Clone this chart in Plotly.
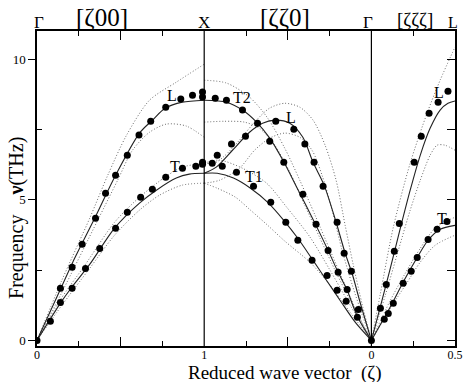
import plotly.graph_objects as go

# ---------------- data (ζ, frequency in THz) ----------------
# [ζ00] direction  (Γ -> X)
d1_L_exp_z = [0, 0.08, 0.14, 0.21, 0.27, 0.35, 0.41, 0.47, 0.54, 0.61, 0.68, 0.77, 0.86, 0.93, 0.99, 0.99]
d1_L_exp_f = [0, 0.68, 1.85, 2.60, 3.42, 4.34, 5.23, 5.87, 6.58, 7.30, 7.79, 8.29, 8.58, 8.72, 8.83, 8.65]
d1_T_exp_z = [0.14, 0.21, 0.29, 0.375, 0.47, 0.54, 0.62, 0.69, 0.77, 0.87, 0.95, 0.99, 0.99]
d1_T_exp_f = [1.35, 1.85, 2.56, 3.27, 3.99, 4.56, 5.09, 5.37, 5.80, 6.12, 6.19, 6.33, 6.26]

d1_L_calc_z = [0, 0.143, 0.214, 0.345, 0.470, 0.613, 0.690, 0.768, 0.869, 1.0]
d1_L_calc_f = [0, 1.85, 2.78, 4.34, 5.87, 7.37, 7.83, 8.26, 8.47, 8.54]
d1_T_calc_z = [0, 0.143, 0.208, 0.315, 0.464, 0.613, 0.714, 0.833, 0.911, 1.0]
d1_T_calc_f = [0, 1.35, 1.89, 2.70, 3.99, 4.88, 5.34, 5.77, 5.91, 5.94]

d1_L_alt1_z = [0, 0.149, 0.315, 0.423, 0.536, 0.673, 0.833, 1.0]
d1_L_alt1_f = [0, 2.14, 4.34, 5.87, 7.30, 8.54, 9.18, 9.82]
d1_L_alt2_z = [0, 0.149, 0.363, 0.482, 0.571, 0.673, 0.774, 0.893, 1.0]
d1_L_alt2_f = [0, 1.71, 4.27, 5.69, 6.76, 7.40, 7.69, 7.62, 7.22]
d1_T_alt1_z = [0, 0.137, 0.286, 0.464, 0.613, 0.774, 0.869, 1.0]
d1_T_alt1_f = [0, 1.42, 2.67, 4.20, 5.09, 5.84, 6.16, 6.30]
d1_T_alt2_z = [0, 0.149, 0.315, 0.464, 0.613, 0.732, 0.869, 1.0]
d1_T_alt2_f = [0, 1.25, 2.56, 3.74, 4.63, 5.16, 5.52, 5.59]

# [ζζ0] direction  (X -> Γ, ζ from 1 down to 0)
d2_T2_exp_z = [0.934, 0.867, 0.771, 0.681, 0.608, 0.524, 0.410, 0.331, 0.259, 0.199, 0.145, 0.084]
d2_T2_exp_f = [8.61, 8.54, 8.19, 7.72, 7.08, 6.33, 5.20, 4.13, 3.20, 2.42, 1.81, 0.82]
d2_L_exp_z = [0.952, 0.922, 0.837, 0.753, 0.572, 0.464, 0.398, 0.343, 0.289, 0.205, 0.163, 0.120, 0.078]
d2_L_exp_f = [6.30, 6.58, 6.98, 7.26, 7.79, 7.51, 6.98, 6.33, 5.48, 4.20, 3.10, 2.46, 1.10]
d2_T1_exp_z = [0.892, 0.807, 0.705, 0.602, 0.512, 0.440, 0.355, 0.265, 0.205, 0.151]
d2_T1_exp_f = [6.19, 5.98, 5.48, 4.91, 4.20, 3.56, 2.85, 2.31, 1.78, 1.39]

d2_T2_calc_z = [1.0, 0.867, 0.771, 0.687, 0.608, 0.530, 0.446, 0.337, 0.259, 0.199, 0.145, 0.084, 0]
d2_T2_calc_f = [8.54, 8.47, 8.19, 7.76, 7.19, 6.41, 5.44, 4.16, 3.20, 2.42, 1.78, 0.85, 0]
d2_L_calc_z = [1.0, 0.928, 0.831, 0.729, 0.651, 0.572, 0.488, 0.410, 0.349, 0.283, 0.211, 0.157, 0.114, 0.066, 0]
d2_L_calc_f = [5.94, 6.16, 6.76, 7.40, 7.72, 7.83, 7.72, 7.22, 6.33, 5.52, 4.20, 3.10, 2.35, 1.32, 0]
d2_T1_calc_z = [1.0, 0.922, 0.825, 0.723, 0.620, 0.524, 0.440, 0.361, 0.277, 0.187, 0.096, 0]
d2_T1_calc_f = [5.94, 5.94, 5.77, 5.41, 4.91, 4.27, 3.63, 2.95, 2.21, 1.42, 0.64, 0]

d2_T2_alt1_z = [1.0, 0.867, 0.729, 0.620, 0.518, 0.428, 0.337, 0.247, 0.157, 0.078, 0]
d2_T2_alt1_f = [9.25, 9.15, 8.65, 7.90, 6.83, 5.69, 4.45, 3.20, 1.96, 0.89, 0]
d2_T2_alt2_z = [1.0, 0.880, 0.759, 0.669, 0.578, 0.488, 0.398, 0.307, 0.217, 0.127, 0]
d2_T2_alt2_f = [7.76, 7.79, 7.76, 7.54, 6.94, 5.98, 4.80, 3.63, 2.49, 1.42, 0]
d2_L_alt1_z = [1.0, 0.940, 0.880, 0.789, 0.699, 0.608, 0.518, 0.428, 0.349, 0.277, 0.211, 0.157, 0.108, 0.054, 0]
d2_L_alt1_f = [6.30, 6.30, 6.55, 7.12, 7.76, 8.26, 8.43, 8.29, 7.83, 6.94, 5.69, 4.09, 2.67, 1.25, 0]
d2_L_alt2_z = [1.0, 0.910, 0.789, 0.699, 0.608, 0.518, 0.428, 0.355, 0.295, 0.235, 0.175, 0.114, 0.054, 0]
d2_L_alt2_f = [5.59, 5.69, 6.12, 6.76, 7.19, 7.37, 7.22, 6.76, 5.87, 4.63, 3.20, 1.96, 0.89, 0]
d2_T1_alt1_z = [1.0, 0.910, 0.771, 0.627, 0.506, 0.367, 0.247, 0.127, 0]
d2_T1_alt1_f = [6.30, 6.41, 6.12, 5.59, 4.73, 3.67, 2.49, 1.25, 0]
d2_T1_alt2_z = [1.0, 0.922, 0.813, 0.723, 0.620, 0.524, 0.361, 0.247, 0.127, 0]
d2_T1_alt2_f = [5.59, 5.41, 5.09, 4.63, 4.09, 3.56, 2.74, 1.96, 1.00, 0]

# [ζζζ] direction  (Γ -> L)
d3_L_exp_z = [0, 0.054, 0.089, 0.137, 0.167, 0.256, 0.298, 0.345, 0.399, 0.458]
d3_L_exp_f = [0, 1.14, 1.99, 3.17, 4.16, 6.33, 7.26, 8.08, 8.47, 8.86]
d3_T_exp_z = [0.077, 0.101, 0.131, 0.190, 0.238, 0.274, 0.339, 0.393, 0.452]
d3_T_exp_f = [0.75, 0.96, 1.32, 2.03, 2.46, 2.95, 3.59, 3.95, 4.23]

d3_L_calc_z = [0, 0.054, 0.113, 0.173, 0.232, 0.292, 0.351, 0.411, 0.458, 0.5]
d3_L_calc_f = [0, 1.21, 2.56, 3.99, 5.34, 6.58, 7.54, 8.19, 8.43, 8.51]
d3_T_calc_z = [0, 0.125, 0.196, 0.274, 0.339, 0.411, 0.5]
d3_T_calc_f = [0, 1.32, 2.14, 2.95, 3.56, 3.95, 4.09]

d3_L_alt1_z = [0, 0.054, 0.131, 0.232, 0.333, 0.411, 0.5]
d3_L_alt1_f = [0, 1.67, 4.02, 6.30, 8.08, 9.25, 10.43]
d3_L_alt2_z = [0, 0.083, 0.161, 0.232, 0.292, 0.351, 0.393, 0.440, 0.5]
d3_L_alt2_f = [0, 1.60, 3.20, 4.63, 5.69, 6.58, 6.94, 6.94, 6.76]
d3_T_alt1_z = [0, 0.113, 0.202, 0.292, 0.381, 0.5]
d3_T_alt1_f = [0, 1.42, 2.38, 3.27, 3.99, 4.38]
d3_T_alt2_z = [0, 0.125, 0.214, 0.292, 0.381, 0.5]
d3_T_alt2_f = [0, 1.25, 2.06, 2.78, 3.38, 3.74]

x_tick_vals = [0, 1, 2, 2.5]
x_tick_text = ["0", "1", "0", "0.5"]
y_tick_vals = [0, 5, 10]
y_tick_text = ["0", "5", "10"]

# path coordinate mapping for each direction
def seg1(z):
    return list(z)

def seg2(z):
    return [2 - v for v in z]

def seg3(z):
    return [2 + v for v in z]

FONT = "Liberation Serif, Times New Roman, serif"
fig = go.Figure()

dotted = [
    (seg1, d1_L_alt1_z, d1_L_alt1_f), (seg1, d1_L_alt2_z, d1_L_alt2_f),
    (seg1, d1_T_alt1_z, d1_T_alt1_f), (seg1, d1_T_alt2_z, d1_T_alt2_f),
    (seg2, d2_T2_alt1_z, d2_T2_alt1_f), (seg2, d2_T2_alt2_z, d2_T2_alt2_f),
    (seg2, d2_L_alt1_z, d2_L_alt1_f), (seg2, d2_L_alt2_z, d2_L_alt2_f),
    (seg2, d2_T1_alt1_z, d2_T1_alt1_f), (seg2, d2_T1_alt2_z, d2_T1_alt2_f),
    (seg3, d3_L_alt1_z, d3_L_alt1_f), (seg3, d3_L_alt2_z, d3_L_alt2_f),
    (seg3, d3_T_alt1_z, d3_T_alt1_f), (seg3, d3_T_alt2_z, d3_T_alt2_f),
]
for m, z, f in dotted:
    fig.add_trace(go.Scatter(x=m(z), y=f, mode="lines",
                             line=dict(color="#6a6a6a", width=1, dash="1px,2px", shape="spline", smoothing=0.8),
                             hoverinfo="skip", showlegend=False))

solid = [
    (seg1, d1_L_calc_z, d1_L_calc_f), (seg1, d1_T_calc_z, d1_T_calc_f),
    (seg2, d2_T2_calc_z, d2_T2_calc_f), (seg2, d2_L_calc_z, d2_L_calc_f),
    (seg2, d2_T1_calc_z, d2_T1_calc_f),
    (seg3, d3_L_calc_z, d3_L_calc_f), (seg3, d3_T_calc_z, d3_T_calc_f),
]
for m, z, f in solid:
    fig.add_trace(go.Scatter(x=m(z), y=f, mode="lines",
                             line=dict(color="#222", width=1.1, shape="spline", smoothing=0.8),
                             hoverinfo="skip", showlegend=False))

exp = [
    (seg1, d1_L_exp_z, d1_L_exp_f), (seg1, d1_T_exp_z, d1_T_exp_f),
    (seg2, d2_T2_exp_z, d2_T2_exp_f), (seg2, d2_L_exp_z, d2_L_exp_f),
    (seg2, d2_T1_exp_z, d2_T1_exp_f),
    (seg3, d3_L_exp_z, d3_L_exp_f), (seg3, d3_T_exp_z, d3_T_exp_f),
]
for m, z, f in exp:
    fig.add_trace(go.Scatter(x=m(z), y=f, mode="markers",
                             marker=dict(color="black", size=7, symbol="circle"),
                             hoverinfo="skip", showlegend=False))

# invisible helper traces for overlay axes
fig.add_trace(go.Scatter(x=[0], y=[0], xaxis="x2", yaxis="y", mode="markers",
                         marker=dict(opacity=0), hoverinfo="skip", showlegend=False))
fig.add_trace(go.Scatter(x=[0], y=[0], xaxis="x", yaxis="y2", mode="markers",
                         marker=dict(opacity=0), hoverinfo="skip", showlegend=False))

# vertical separators at X and Γ
for xv in (1, 2):
    fig.add_shape(type="line", xref="x", yref="paper", x0=xv, x1=xv, y0=0, y1=1,
                  line=dict(color="black", width=1.2))

# branch labels
branch_labels = [
    ("L", 0.807, 8.72), ("T2", 1.226, 8.65), ("L", 1.519, 7.94),
    ("T", 0.825, 6.19), ("T1", 1.298, 5.84), ("L", 2.404, 8.83), ("T", 2.422, 4.34),
]
for t, xv, yv in branch_labels:
    fig.add_annotation(x=xv, y=yv, text=t, showarrow=False,
                       font=dict(family=FONT, size=16, color="black"))

# top labels
top_labels = [
    ("Γ", 0.012, 17, 9), ("[ζ00]", 0.389, 25, 14), ("X", 1.0, 17, 9),
    ("[ζζ0]", 1.483, 25, 14), ("Γ", 1.98, 17, 9), ("[ζζζ]", 2.26, 19, 12), ("L", 2.488, 16, 9),
]
for t, xv, sz, ys in top_labels:
    fig.add_annotation(x=xv, xref="x", y=1, yref="paper", yanchor="middle", yshift=ys,
                       text=t, showarrow=False, font=dict(family=FONT, size=sz, color="black"))

# axis titles
fig.add_annotation(x=0.593, xref="paper", y=0, yref="paper", yanchor="middle", yshift=-27,
                   text="Reduced wave vector\u00a0\u00a0(ζ)", showarrow=False,
                   font=dict(family=FONT, size=19, color="black"))
fig.add_annotation(x=0, xref="paper", xshift=-34, y=0.405, yref="paper", textangle=-90,
                   text="Frequency\u00a0\u00a0\u00a0\u00a0<b>ν</b>(THz)", showarrow=False,
                   font=dict(family=FONT, size=20, color="black"))

fig.update_layout(
    width=463, height=382,
    margin=dict(l=37, r=8, t=31, b=36, autoexpand=False),
    paper_bgcolor="white", plot_bgcolor="white",
    font=dict(family=FONT, size=13, color="black"),
    xaxis=dict(range=[0, 2.5], tickvals=x_tick_vals, ticktext=x_tick_text,
               ticks="", showgrid=False, zeroline=False, automargin=False,
               showline=True, linecolor="black", linewidth=1.5, mirror="ticks",
               tickfont=dict(family=FONT, size=12), ticklabeloverflow="allow",
               ticklabelstandoff=-3,
               minor=dict(tickvals=[0.25, 0.75, 1.25, 1.75, 2.25], ticks="inside",
                          ticklen=5, tickcolor="black", tickwidth=1, showgrid=False)),
    xaxis2=dict(range=[0, 2.5], overlaying="x", tickvals=[0.5, 1.5], ticks="inside",
                ticklen=9, tickcolor="black", showticklabels=False, showgrid=False,
                zeroline=False, showline=False, mirror="ticks", automargin=False),
    yaxis=dict(range=[-0.2, 11], tickvals=y_tick_vals, ticktext=y_tick_text,
               ticks="outside", ticklen=7, tickcolor="black", showgrid=False, zeroline=False,
               showline=True, linecolor="black", linewidth=1.5, mirror=False, automargin=False,
               tickfont=dict(family=FONT, size=13), ticklabeloverflow="allow",
               minor=dict(tickvals=[2.5, 7.5], ticks="inside", ticklen=5,
                          tickcolor="black", showgrid=False)),
    yaxis2=dict(range=[-0.2, 11], overlaying="y", side="right",
                tickvals=[0, 2.5, 5, 7.5, 10], ticks="inside", ticklen=8, tickcolor="black",
                showticklabels=False, showgrid=False, zeroline=False, automargin=False,
                showline=True, linecolor="black", linewidth=1.5),
)

fig.write_html("out.html", config={"displayModeBar": False},
               post_script="document.body.style.margin='0';document.body.style.padding='0';")
